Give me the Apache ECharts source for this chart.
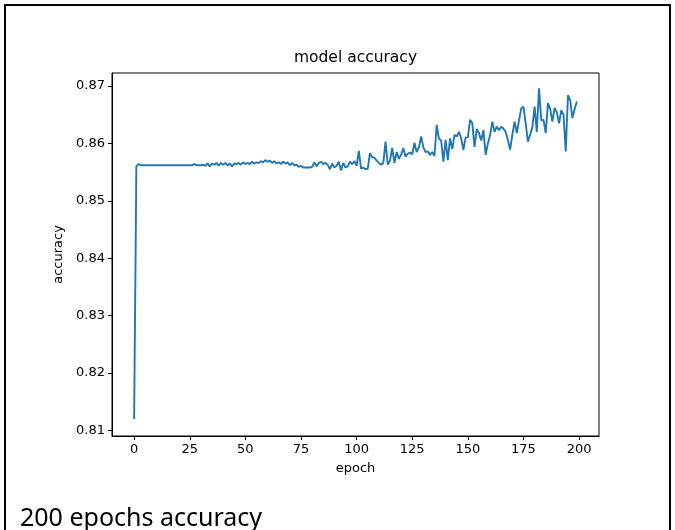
<!DOCTYPE html>
<html>
<head>
<meta charset="utf-8">
<script src="https://cdn.jsdelivr.net/npm/echarts@6/dist/echarts.min.js"></script>
<style>
html,body{margin:0;padding:0;background:#fff;}
#chart{width:675px;height:530px;}
</style>
</head>
<body>
<div id="chart"></div>
<script>
// Epochs 0..199 and accuracy per epoch
const epochs = Array.from({length: 200}, (_, i) => i);
const accuracy = [
  0.812, 0.8560, 0.8564, 0.8562, 0.8562, 0.8562, 0.8562, 0.8562, 0.8562, 0.8562,
  0.8562, 0.8562, 0.8562, 0.8562, 0.8562, 0.8562, 0.8562, 0.8562, 0.8562, 0.8562,
  0.8562, 0.8562, 0.8562, 0.8562, 0.8562, 0.8562, 0.8562, 0.8564, 0.8562, 0.8562,
  0.8562, 0.8563, 0.8561, 0.8565, 0.8560, 0.8565, 0.8563, 0.8566, 0.8561, 0.8566,
  0.8563, 0.8566, 0.8562, 0.8565, 0.8560, 0.8565, 0.8564, 0.8566, 0.8563, 0.8567,
  0.8564, 0.8566, 0.8564, 0.8568, 0.8565, 0.8567, 0.8566, 0.8569, 0.8567, 0.8571,
  0.8568, 0.8570, 0.8566, 0.8569, 0.8565, 0.8567, 0.8564, 0.8568, 0.8565, 0.8567,
  0.8562, 0.8566, 0.8562, 0.8563, 0.8559, 0.8561, 0.8558, 0.8558, 0.8558, 0.8558,
  0.8559, 0.8567, 0.8560, 0.8566, 0.8568, 0.8564, 0.8566, 0.8563, 0.8555, 0.8565,
  0.8558, 0.8561, 0.8568, 0.8553, 0.8566, 0.8558, 0.8560, 0.8568, 0.8564, 0.8569,
  0.8561, 0.8587, 0.8556, 0.8558, 0.8555, 0.8556, 0.8583, 0.8576, 0.8575, 0.8570,
  0.8566, 0.8563, 0.8566, 0.8603, 0.8563, 0.8570, 0.8592, 0.8566, 0.8585, 0.8573,
  0.8580, 0.8592, 0.8577, 0.8582, 0.8584, 0.8581, 0.8601, 0.8585, 0.8593, 0.8612,
  0.8593, 0.8585, 0.8586, 0.8580, 0.8585, 0.8578, 0.8632, 0.8608, 0.8605, 0.8568,
  0.8606, 0.8571, 0.8609, 0.8590, 0.8615, 0.8612, 0.8620, 0.8609, 0.8589, 0.8610,
  0.8611, 0.8641, 0.8635, 0.8594, 0.8625, 0.8618, 0.8605, 0.8623, 0.8580, 0.8600,
  0.8614, 0.8638, 0.8620, 0.8629, 0.8623, 0.8629, 0.8626, 0.8620, 0.8606, 0.8589,
  0.8615, 0.8638, 0.8618, 0.8640, 0.8661, 0.8664, 0.8635, 0.8603, 0.8615, 0.8628,
  0.8664, 0.8620, 0.8696, 0.8640, 0.8641, 0.8618, 0.8670, 0.8660, 0.8638, 0.8662,
  0.8654, 0.8635, 0.8658, 0.8650, 0.8586, 0.8684, 0.8675, 0.8644, 0.8660, 0.8673
];
const xTicks = [0, 25, 50, 75, 100, 125, 150, 175, 200];
const yTicks = [0.81, 0.82, 0.83, 0.84, 0.85, 0.86, 0.87];
const chartTitle = 'model accuracy';
const xName = 'epoch';
const yName = 'accuracy';
const caption = '200 epochs accuracy';

const points = epochs.map((e, i) => [e, accuracy[i]]);
const font = 'DejaVu Sans';

const chart = echarts.init(document.getElementById('chart'), null, {renderer: 'canvas'});
chart.setOption({
  animation: false,
  backgroundColor: '#ffffff',
  grid: {
    left: 112, right: 76, top: 73, bottom: 94,
    show: true, borderColor: '#000', borderWidth: 1, backgroundColor: 'transparent'
  },
  xAxis: {
    type: 'value',
    min: -9.95, max: 208.95,
    name: xName, nameLocation: 'middle', nameGap: 26,
    nameTextStyle: {fontFamily: font, fontSize: 13, color: '#000'},
    axisLine: {show: true, onZero: false, lineStyle: {color: '#000', width: 1}},
    axisTick: {show: true, inside: false, length: 4, customValues: xTicks, lineStyle: {color: '#000', width: 1}},
    axisLabel: {show: true, customValues: xTicks, margin: 7, fontFamily: font, fontSize: 13, color: '#000'},
    splitLine: {show: false}
  },
  yAxis: {
    type: 'value',
    min: 0.80904, max: 0.87226,
    name: yName, nameLocation: 'middle', nameGap: 46,
    nameTextStyle: {fontFamily: font, fontSize: 13, color: '#000'},
    axisLine: {show: true, onZero: false, lineStyle: {color: '#000', width: 1}},
    axisTick: {show: true, inside: false, length: 4, customValues: yTicks, lineStyle: {color: '#000', width: 1}},
    axisLabel: {show: true, customValues: yTicks, margin: 7, fontFamily: font, fontSize: 13, color: '#000',
      formatter: v => v.toFixed(2)},
    splitLine: {show: false}
  },
  series: [{
    type: 'line',
    data: points,
    showSymbol: false,
    symbol: 'none',
    lineStyle: {color: '#1f77b4', width: 1.9},
    itemStyle: {color: '#1f77b4'},
    silent: true
  }],
  graphic: [
    {type: 'text', x: 355.5, y: 58, style: {text: chartTitle, fontFamily: font, fontSize: 15.5, fill: '#000', textAlign: 'center', textVerticalAlign: 'middle'}},
    {type: 'text', x: 20, y: 531, style: {text: caption, fontFamily: 'Noto Sans', fontSize: 25, fill: '#000', textVerticalAlign: 'bottom'}},
    {type: 'line', shape: {x1: 4, y1: 5, x2: 671, y2: 5}, style: {stroke: '#000', lineWidth: 2}},
    {type: 'line', shape: {x1: 5, y1: 4, x2: 5, y2: 530}, style: {stroke: '#000', lineWidth: 2}},
    {type: 'line', shape: {x1: 670, y1: 4, x2: 670, y2: 530}, style: {stroke: '#000', lineWidth: 2}}
  ]
});
</script>
</body>
</html>
